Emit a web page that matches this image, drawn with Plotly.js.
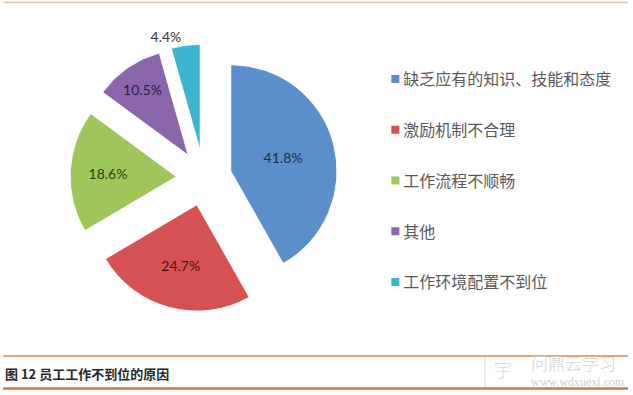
<!DOCTYPE html>
<html>
<head>
<meta charset="utf-8">
<script src="https://cdn.plot.ly/plotly-3.0.1.min.js"></script>
<style>html,body{margin:0;padding:0;background:#fff;}#chart{width:633px;height:395px;}</style>
</head>
<body>
<div id="chart"></div>
<script>
const categories = ['缺乏应有的知识、技能和态度', '激励机制不合理', '工作流程不顺畅', '其他', '工作环境配置不到位'];
const shares = [41.8, 24.7, 18.6, 10.5, 4.4];
const sliceColors = ['#5a8fcb', '#d65252', '#9ec65a', '#8a66ad', '#3db5ce'];
const labelColors = ['#1c2c4c', '#4c1212', '#2c3c12', '#2c1c4c', '#333333'];
const labelPositions = ['inside', 'inside', 'inside', 'inside', 'outside'];
const captionText = '图 12 员工工作不到位的原因';

const CJK = '"Noto Sans CJK SC", "Noto Sans", sans-serif';
const LAT = 'Lato, "Liberation Sans", "Noto Sans", sans-serif';

const pieTrace = {
  type: 'pie',
  labels: categories,
  values: shares,
  sort: false,
  direction: 'clockwise',
  rotation: 0,
  pull: 0.26,
  marker: {colors: sliceColors, line: {color: '#ffffff', width: 1}},
  texttemplate: '%{value:.1f}%',
  textposition: labelPositions,
  insidetextorientation: 'horizontal',
  textfont: {family: LAT, size: 14, color: labelColors},
  outsidetextfont: {family: LAT, size: 14, color: '#333333'},
  showlegend: false,
  hoverinfo: 'label+percent',
  domain: {x: [0.1106, 0.534], y: [0.21, 0.8886]}
};

const legendTraces = categories.map((c, i) => ({
  type: 'scatter',
  mode: 'markers',
  x: [null], y: [null],
  name: c,
  legendgroup: 'g' + i,
  marker: {symbol: 'square', size: 8, color: sliceColors[i]},
  hoverinfo: 'skip'
}));

const layout = {
  width: 633, height: 395,
  margin: {l: 0, r: 0, t: 0, b: 0},
  paper_bgcolor: '#ffffff',
  plot_bgcolor: '#ffffff',
  xaxis: {visible: false, domain: [0.9, 1]},
  yaxis: {visible: false, domain: [0.9, 1]},
  showlegend: true,
  legend: {
    x: 0.574, xanchor: 'left',
    y: 0.843, yanchor: 'top',
    font: {family: CJK, size: 16, color: '#595959'},
    tracegroupgap: 27,
    bgcolor: 'rgba(0,0,0,0)'
  },
  shapes: [
    {type: 'line', xref: 'paper', yref: 'paper', x0: 0.005, x1: 0.992, y0: 1 - 2.5/395, y1: 1 - 2.5/395, line: {color: '#dcc4a4', width: 1.5}},
    {type: 'line', xref: 'paper', yref: 'paper', x0: 0.005, x1: 0.992, y0: 1 - 356/395, y1: 1 - 356/395, line: {color: '#e2a677', width: 2}},
    {type: 'line', xref: 'paper', yref: 'paper', x0: 0.005, x1: 0.992, y0: 1 - 388.5/395, y1: 1 - 388.5/395, line: {color: '#c97a45', width: 2.5}},
    {type: 'line', xref: 'paper', yref: 'paper', x0: 485/633, x1: 485/633, y0: 1 - 358/395, y1: 1 - 387/395, line: {color: '#d8d8d8', width: 1}}
  ],
  annotations: [
    {text: captionText, xref: 'paper', yref: 'paper', x: 3/633, y: 1 - 373/395, xanchor: 'left', yanchor: 'middle', showarrow: false,
     font: {family: CJK, size: 13, color: '#262626', weight: 'bold'}},
    {text: '问鼎云学习', xref: 'paper', yref: 'paper', x: 529/633, y: 1 - 362/395, xanchor: 'left', yanchor: 'middle', showarrow: false,
     font: {family: CJK, size: 17, color: '#d4d4d4', weight: 300}},
    {text: 'www.wdxuexi.com', xref: 'paper', yref: 'paper', x: 529/633, y: 1 - 382/395, xanchor: 'left', yanchor: 'middle', showarrow: false,
     font: {family: '"Liberation Serif", serif', size: 12, color: '#cfcfcf'}},
    {text: '宇', xref: 'paper', yref: 'paper', x: 492/633, y: 1 - 369/395, xanchor: 'left', yanchor: 'middle', showarrow: false,
     font: {family: CJK, size: 18, color: '#dadada', weight: 300}}
  ]
};

Plotly.newPlot('chart', [pieTrace].concat(legendTraces), layout, {displayModeBar: false, staticPlot: true}).then(function (gd) {
  // nudge legend symbols closer to their texts, as in the reference
  gd.querySelectorAll('.legend .traces .legendpoints').forEach(function (g) {
    g.setAttribute('transform', 'translate(12,0)');
  });
});
</script>
</body>
</html>
